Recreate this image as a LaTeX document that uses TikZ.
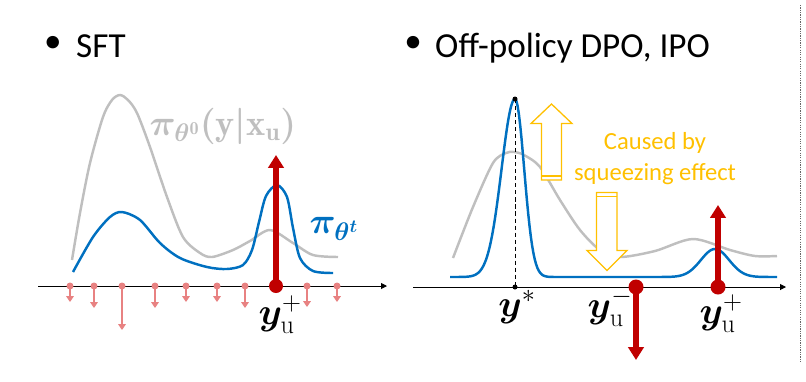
\RequirePackage{fix-cm}
\documentclass[tikz,border=0pt]{standalone}
\usepackage{amsmath}
\usepackage{amssymb}
\usepackage{bm}
\usepackage{fontspec}
\newfontfamily\slidefont{Carlito}
\usepackage{xcolor}
\usepackage{tikz}
\usetikzlibrary{arrows.meta}

\definecolor{curvegray}{HTML}{BFBFBF}
\definecolor{curveblue}{HTML}{0070C0}
\definecolor{arrowred}{HTML}{C00000}
\definecolor{softred}{HTML}{E88282}
\definecolor{squeeze}{HTML}{FFC000}

\begin{document}
\begin{tikzpicture}[x=0.03cm, y=-0.03cm,
        graycurve/.style={draw=curvegray, line width=2.1pt},
        bluecurve/.style={draw=curveblue, line width=2.1pt},
        axis/.style={line width=0.8pt, -{Triangle[length=5pt,width=5pt]}},
        bigarrow/.style={draw=arrowred, line width=4.3pt, -{Triangle[length=11pt,width=13pt]}},
        smallarrow/.style={draw=softred, line width=1.1pt, -{Triangle[length=5pt,width=6.5pt]}},
        hollow/.style={draw=squeeze, line width=1.1pt, fill=white, line join=miter},
        slide/.style={font=\slidefont\fontsize{30}{36}\selectfont, inner sep=0pt},
        ylabel/.style={font=\fontsize{32}{38}\selectfont, inner sep=0pt}]
                        \useasboundingbox (0,0) rectangle (806,381);

                        % SFT
                        \node[slide] (bulletL) at (53,44) {•};
                        \node[slide, anchor=base west] (titleL) at (76,57) {SFT};

                        \coordinate (axL0) at (38,286);
                        \coordinate (axL1) at (387,286);
                        \draw[axis] (axL0) to (axL1);

                        \draw[graycurve] plot[smooth] coordinates {(72,260) (80,213) (90,163) (103,117) (112,100) (120,95) (128,100) (137,113) (150,147) (167,197) (183,237) (200,253) (212,257) (233,250) (250,241) (270,230) (293,243) (313,255) (338,257)};
                        \draw[bluecurve] plot[smooth] coordinates {(73,272) (93,237) (110,217) (122,212) (140,220) (160,243) (180,258) (207,267) (227,269) (243,265) (252,250) (259,222) (266,196) (277,185) (287,197) (293,228) (300,258) (313,271) (333,273)};

                        \node[text=curvegray, font=\fontsize{31}{37}\selectfont, inner sep=0pt] (piref) at (223,126)
                            {$\boldsymbol{\pi}_{\boldsymbol{\theta}^{\mathbf{0}}}\boldsymbol{(}\mathbf{y}\boldsymbol{|}\mathbf{x}_{\mathbf{u}}\boldsymbol{)}$};
                        \node[text=curveblue, font=\fontsize{31}{37}\selectfont, inner sep=0pt] (pitheta) at (334,229)
                            {$\boldsymbol{\pi}_{\boldsymbol{\theta}^{\boldsymbol{t}}}$};

                        \foreach \x/\tip in {70/302, 94/308, 122/330, 155/308, 186/302, 217/302, 245/308, 307/307, 337/302} {
                            \coordinate (neg\x) at (\x,286);
                            \coordinate (negtip\x) at (\x,\tip);
                            \draw[smallarrow] (neg\x) -- (negtip\x);
                            \fill[softred] (neg\x) circle (3.5);
                        }

                        \coordinate (ypL) at (276,286);
                        \coordinate (ypLtip) at (276,155);
                        \draw[bigarrow] (ypL) -- (ypLtip);
                        \fill[arrowred] (ypL) circle (7);
                        \node[ylabel] (ypLlabel) at (280,315) {$\boldsymbol{y}_{\mathrm{u}}^{+}$};

                        % off-policy DPO, IPO
                        \node[slide] (bulletR) at (413,44) {•};
                        \node[slide, anchor=base west] (titleR) at (435,57) {Off-policy DPO, IPO};

                        \coordinate (axR0) at (413,287);
                        \coordinate (axR1) at (786,287);
                        \draw[axis] (axR0) to (axR1);

                        \draw[graycurve] plot[smooth] coordinates {(453,258) (473,207) (493,163) (506,153) (514,152) (524,155) (540,167) (560,200) (580,230) (600,250) (620,257) (655,251) (693,239) (730,250) (755,256) (777,256)};
                        \draw[bluecurve] plot[domain=450:515, samples=70] (\x,{277-178*exp(-min(((\x-515)/19)^2,20))-28*exp(-min(((\x-715)/20)^2,20))})
                            -- plot[domain=515:777, samples=200] (\x,{277-178*exp(-min(((\x-515)/13)^2,20))-28*exp(-min(((\x-715)/20)^2,20))});

                        \coordinate (ystarTop) at (515,99);
                        \coordinate (ystar) at (515,287);
                        \draw[dashed, line width=0.8pt, dash pattern=on 3.5pt off 2.5pt] (ystarTop) -- (ystar);
                        \fill (ystarTop) circle (2.5);
                        \fill (ystar) circle (2.5);
                        \node[ylabel] (ystarlabel) at (517,307) {$\boldsymbol{y}^{*}$};

                        % squeezing arrows
                        \draw[hollow] (541.5,180) -- (541.5,123.5) -- (531,123.5) -- (551.5,104) -- (572,123.5) -- (561.5,123.5) -- (561.5,180) -- cycle;
                        \draw[squeeze, line width=1.1pt] (541.5,176) -- (561.5,176);
                        \draw[hollow] (596.5,192.5) -- (617,192.5) -- (617,250.5) -- (627,250.5) -- (607,270.5) -- (587,250.5) -- (596.5,250.5) -- cycle;
                        \draw[squeeze, line width=1.1pt] (596.5,196.5) -- (617,196.5);
                        \node[text=squeeze, font=\slidefont\fontsize{21}{26}\selectfont, align=center, inner sep=0pt] (cause) at (655,158.5)
                            {Caused by\\squeezing effect};

                        \coordinate (ym) at (636,287);
                        \coordinate (ymtip) at (636,360);
                        \draw[bigarrow] (ym) -- (ymtip);
                        \fill[arrowred] (ym) circle (7.5);
                        \node[ylabel] (ymlabel) at (610,307.5) {$\boldsymbol{y}_{\mathrm{u}}^{-}$};

                        \coordinate (ypR) at (718,287);
                        \coordinate (ypRtip) at (718,205);
                        \draw[bigarrow] (ypR) -- (ypRtip);
                        \fill[arrowred] (ypR) circle (7.5);
                        \node[ylabel] (ypRlabel) at (721,314) {$\boldsymbol{y}_{\mathrm{u}}^{+}$};

                        \coordinate (sepTop) at (800,5);
                        \coordinate (sepBot) at (800,362);
                        \draw[black!60, line width=0.6pt, dash pattern=on 1pt off 1pt] (sepTop) -- (sepBot);
                    \end{tikzpicture}
\end{document}
